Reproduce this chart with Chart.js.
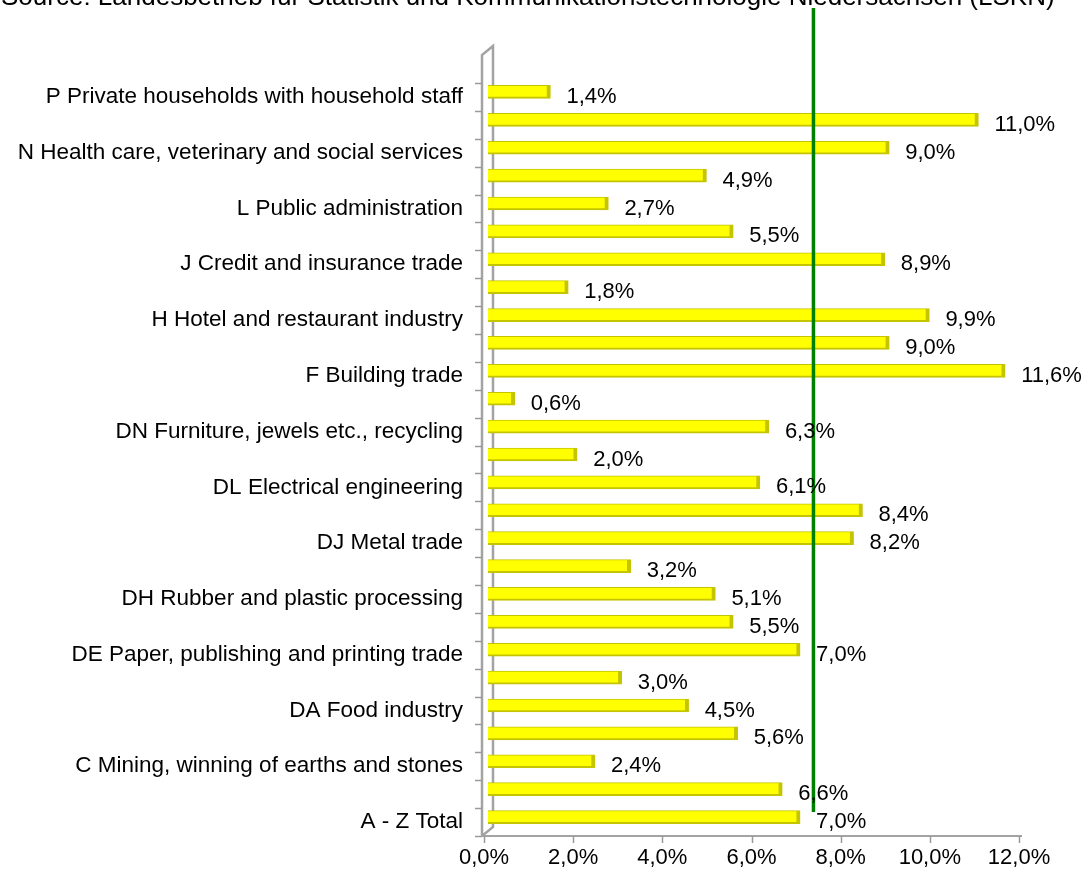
<!DOCTYPE html>
<html>
<head>
<meta charset="utf-8">
<script src="https://cdn.jsdelivr.net/npm/chart.js@4/dist/chart.umd.min.js"></script>
<style>
html,body{margin:0;padding:0;background:#fff;}
#wrap{width:1087px;height:875px;position:relative;}
</style>
</head>
<body>
<div id="wrap"><canvas id="c"></canvas></div>
<script>
const sourceText = 'Source: Landesbetrieb für Statistik und Kommunikationstechnologie Niedersachsen (LSKN)';
const categories = [
  'P Private households with household staff', '',
  'N Health care, veterinary and social services', '',
  'L Public administration', '',
  'J Credit and insurance trade', '',
  'H Hotel and restaurant industry', '',
  'F Building trade', '',
  'DN Furniture, jewels etc., recycling', '',
  'DL Electrical engineering', '',
  'DJ Metal trade', '',
  'DH Rubber and plastic processing', '',
  'DE Paper, publishing and printing trade', '',
  'DA Food industry', '',
  'C Mining, winning of earths and stones', '',
  'A - Z Total'
];
const values = [1.4, 11.0, 9.0, 4.9, 2.7, 5.5, 8.9, 1.8, 9.9, 9.0, 11.6, 0.6, 6.3, 2.0, 6.1, 8.4, 8.2, 3.2, 5.1, 5.5, 7.0, 3.0, 4.5, 5.6, 2.4, 6.6, 7.0];
const xTicks = [0, 2, 4, 6, 8, 10, 12];
const xTickLabels = ['0,0%', '2,0%', '4,0%', '6,0%', '8,0%', '10,0%', '12,0%'];
const referenceLine = 7.3;

const FONT = '"Liberation Sans", Arial, sans-serif';
const fmt = v => v.toFixed(1).replace('.', ',') + '%';

const decor = {
  id: 'decor',
  beforeDatasetsDraw(chart) {
    const ctx = chart.ctx, ca = chart.chartArea, x = chart.scales.x;
    const band = (ca.bottom - ca.top) / categories.length;
    const floorY = ca.bottom + 5;
    ctx.save();
    // 3D wall
    ctx.strokeStyle = '#a3a3a3';
    ctx.lineWidth = 2.5;
    ctx.beginPath();
    ctx.moveTo(482, floorY); ctx.lineTo(482, ca.top - 23);
    ctx.lineTo(493, ca.top - 32); ctx.lineTo(493, floorY - 9);
    ctx.lineTo(482, floorY);
    ctx.stroke();
    // wall tick marks
    ctx.lineWidth = 1.5;
    ctx.strokeStyle = '#999';
    for (let i = 0; i <= categories.length; i++) {
      const y = Math.round(ca.top + 5 + i * band) + 0.5;
      ctx.beginPath(); ctx.moveTo(475, y); ctx.lineTo(482, y); ctx.stroke();
    }
    // x axis line
    ctx.strokeStyle = '#a3a3a3';
    ctx.lineWidth = 2;
    ctx.beginPath(); ctx.moveTo(481, floorY); ctx.lineTo(1022, floorY); ctx.stroke();
    ctx.lineWidth = 1.5;
    ctx.strokeStyle = '#999';
    xTicks.forEach(v => {
      const px = Math.round(x.getPixelForValue(v) - 4) + 0.5;
      ctx.beginPath(); ctx.moveTo(px, floorY); ctx.lineTo(px, floorY + 7); ctx.stroke();
    });
    ctx.restore();
  },
  afterDatasetsDraw(chart) {
    const ctx = chart.ctx, x = chart.scales.x;
    const meta = chart.getDatasetMeta(0);
    ctx.save();
    // reference line
    const lx = x.getPixelForValue(referenceLine);
    ctx.strokeStyle = '#008000';
    ctx.lineWidth = 3.5;
    ctx.beginPath(); ctx.moveTo(lx, 8); ctx.lineTo(lx, 812); ctx.stroke();
    // value labels
    ctx.fillStyle = '#000';
    ctx.font = '22px ' + FONT;
    ctx.textAlign = 'left';
    ctx.textBaseline = 'middle';
    meta.data.forEach((bar, i) => {
      ctx.fillText(fmt(values[i]), bar.x + 16, bar.y + 5);
    });
    // source text (cut at top)
    ctx.font = '26px ' + FONT;
    ctx.textBaseline = 'alphabetic';
    ctx.fillText(sourceText, 1, 5);
    ctx.restore();
  }
};

new Chart(document.getElementById('c'), {
  type: 'bar',
  data: {
    labels: categories,
    datasets: [{
      data: values,
      backgroundColor: '#ffff00',
      borderColor: '#c4c400',
      borderWidth: {top: 1, right: 4, bottom: 2, left: 0},
      borderSkipped: false,
      barThickness: 13
    }]
  },
  options: {
    indexAxis: 'y',
    responsive: true,
    maintainAspectRatio: false,
    animation: false,
    layout: {padding: {top: 78, right: 64, left: 0, bottom: 0}},
    plugins: {legend: {display: false}, tooltip: {enabled: false}},
    scales: {
      y: {
        grid: {display: false},
        border: {display: false},
        afterFit(s) { s.width = 488; },
        ticks: {
          autoSkip: false,
          padding: 17,
          labelOffset: 5,
          color: '#000',
          font: {family: FONT, size: 22.5}
        }
      },
      x: {
        min: 0, max: 12,
        grid: {display: false},
        border: {display: false},
        afterFit(s) { s.height = 44; },
        afterBuildTicks(s) { s.ticks = xTicks.map(v => ({value: v})); },
        ticks: {
          padding: 6,
          labelOffset: -4,
          maxRotation: 0,
          color: '#000',
          font: {family: FONT, size: 22},
          callback: (v, i) => xTickLabels[i]
        }
      }
    }
  },
  plugins: [decor]
});
</script>
</body>
</html>
